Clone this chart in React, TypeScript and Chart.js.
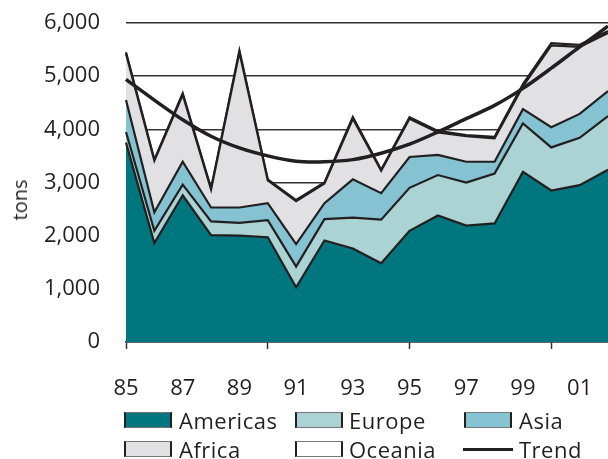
import React, { useEffect, useRef } from 'react';
import { Chart, registerables } from 'chart.js';

Chart.register(...registerables);

const years = ['85', '86', '87', '88', '89', '90', '91', '92', '93', '94', '95', '96', '97', '98', '99', '00', '01', '02'];
const americas = [3750, 1860, 2760, 2010, 2000, 1970, 1030, 1910, 1760, 1480, 2090, 2380, 2190, 2230, 3200, 2850, 2950, 3240];
const europe = [200, 230, 200, 260, 240, 320, 390, 400, 580, 820, 810, 760, 810, 940, 910, 810, 890, 1010];
const asia = [600, 350, 430, 260, 290, 320, 420, 300, 720, 500, 580, 380, 390, 220, 270, 380, 450, 470];
const africa = [870, 970, 1260, 340, 2920, 430, 810, 370, 1140, 420, 720, 420, 480, 440, 430, 1540, 1260, 1090];
const oceania = [30, 20, 30, 20, 30, 20, 20, 20, 30, 20, 30, 30, 20, 30, 40, 40, 40, 40];
const trend = [4940, 4550, 4180, 3870, 3650, 3500, 3400, 3390, 3430, 3550, 3720, 3950, 4200, 4450, 4770, 5150, 5550, 5940];

const INK = '#231f20';
const FONT = "'Open Sans', 'DejaVu Sans', sans-serif";

const legendItems = [
  { label: 'Americas', color: '#00777f', kind: 'box', x: 124, tx: 179, row: 0 },
  { label: 'Europe', color: '#acd3d3', kind: 'box', x: 295, tx: 349, row: 0 },
  { label: 'Asia', color: '#85c3d3', kind: 'box', x: 464, tx: 519, row: 0 },
  { label: 'Africa', color: '#e1e1e4', kind: 'box', x: 124, tx: 179, row: 1 },
  { label: 'Oceania', color: '#ffffff', kind: 'box', x: 295, tx: 349, row: 1 },
  { label: 'Trend', color: INK, kind: 'line', x: 463, tx: 519, row: 1 },
];
const rowCenters = [419.5, 449];

export default function App() {
  const ref = useRef<HTMLCanvasElement>(null);

  useEffect(() => {
    document.body.style.margin = '0';
    const line = { borderColor: INK, borderWidth: 2.2, pointRadius: 0, tension: 0 };
    const chart = new Chart(ref.current as HTMLCanvasElement, {
      type: 'line',
      data: {
        labels: years,
        datasets: [
          { label: 'Americas', data: americas, backgroundColor: '#00777f', fill: 'origin', ...line },
          { label: 'Europe', data: europe, backgroundColor: '#acd3d3', fill: '-1', ...line },
          { label: 'Asia', data: asia, backgroundColor: '#85c3d3', fill: '-1', ...line },
          { label: 'Africa', data: africa, backgroundColor: '#e1e1e4', fill: '-1', ...line },
          { label: 'Oceania', data: oceania, backgroundColor: '#ffffff', fill: '-1', ...line },
          { label: 'Trend', data: trend, stack: 'trend', fill: false, order: -1, borderColor: INK, borderWidth: 3.5, pointRadius: 0, tension: 0.3 },
        ] as any,
      },
      options: {
        animation: false,
        responsive: false,
        layout: { padding: { top: 23, right: 0, left: 0, bottom: 0 } },
        plugins: { legend: { display: false }, tooltip: { enabled: false } },
        scales: {
          x: {
            grid: {
              drawOnChartArea: false,
              tickLength: 7,
              tickWidth: 1.5,
              tickColor: (c: any) => (c.index % 5 === 0 ? '#333' : 'rgba(0,0,0,0)'),
            },
            border: { display: true, color: '#333', width: 1.5 },
            ticks: {
              autoSkip: false,
              maxRotation: 0,
              padding: 27,
              color: INK,
              font: { family: FONT, size: 22 },
              callback: (_v: any, i: number) => (i % 2 === 0 ? years[i] : ''),
            },
            afterFit: (s: any) => {
              s.height = 117;
              s.paddingLeft = 0;
              s.paddingRight = 0;
            },
          },
          y: {
            stacked: true,
            min: 0,
            max: 6000,
            ticks: {
              stepSize: 1000,
              padding: 26,
              color: INK,
              font: { family: FONT, size: 22 },
              callback: (v: any) => Number(v).toLocaleString('en-US'),
            },
            grid: { color: '#333', lineWidth: 1.5, drawTicks: false },
            border: { display: false },
            afterFit: (s: any) => {
              s.width = 126;
              s.paddingTop = 0;
              s.paddingBottom = 0;
            },
          },
        },
      } as any,
    });
    return () => chart.destroy();
  }, []);

  return (
    <div style={{ position: 'relative', width: 608, height: 459, overflow: 'hidden', fontFamily: FONT, color: INK }}>
      <canvas ref={ref} width={608} height={459} style={{ width: 608, height: 459, display: 'block' }} />
      <div
        style={{
          position: 'absolute',
          left: 19.5,
          top: 200,
          transform: 'translate(-50%, -50%) rotate(-90deg)',
          fontSize: 20,
          lineHeight: '20px',
          whiteSpace: 'nowrap',
        }}
      >
        tons
      </div>
      {legendItems.map((it) => {
        const cy = rowCenters[it.row];
        return (
          <React.Fragment key={it.label}>
            {it.kind === 'box' ? (
              <div
                style={{
                  position: 'absolute',
                  left: it.x,
                  top: cy - 8,
                  width: 48,
                  height: 16,
                  boxSizing: 'border-box',
                  background: it.color,
                  borderTop: '1px solid #777',
                  borderBottom: '1px solid #777',
                  borderLeft: `2px solid ${INK}`,
                  borderRight: `2px solid ${INK}`,
                }}
              />
            ) : (
              <div
                style={{
                  position: 'absolute',
                  left: it.x,
                  top: cy - 1.5,
                  width: 50,
                  height: 3,
                  background: it.color,
                }}
              />
            )}
            <div
              style={{
                position: 'absolute',
                left: it.tx,
                top: cy - 11,
                fontSize: 22,
                lineHeight: '22px',
                letterSpacing: '0.5px',
                whiteSpace: 'nowrap',
              }}
            >
              {it.label}
            </div>
          </React.Fragment>
        );
      })}
    </div>
  );
}
